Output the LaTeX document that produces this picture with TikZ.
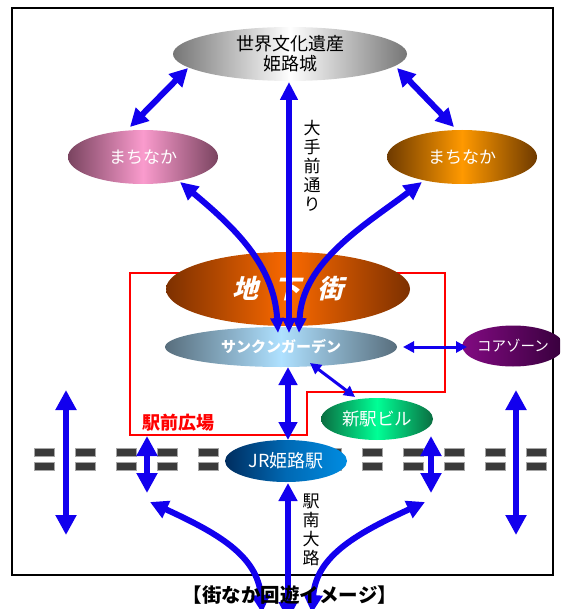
\documentclass[tikz,border=0pt]{standalone}
\usepackage{fontspec}
\setmainfont{Noto Sans CJK JP}
\newfontfamily\jpslant{Noto Sans CJK JP}[FakeSlant=0.25]
\usetikzlibrary{arrows.meta,shapes.geometric,calc}
\definecolor{ablue}{RGB}{18,0,238}
\definecolor{ggray}{RGB}{118,118,118}
\definecolor{pinkE}{RGB}{122,68,96}
\definecolor{pinkC}{RGB}{250,155,205}
\definecolor{orgE}{RGB}{110,58,0}
\definecolor{orgC}{RGB}{255,153,0}
\definecolor{chikaE}{RGB}{125,48,0}
\definecolor{chikaC}{RGB}{250,105,0}
\definecolor{sgE}{RGB}{88,110,125}
\definecolor{sgC}{RGB}{175,225,255}
\definecolor{czL}{RGB}{130,10,130}
\definecolor{czR}{RGB}{55,0,60}
\definecolor{sbE}{RGB}{10,110,65}
\definecolor{sbC}{RGB}{0,255,150}
\definecolor{jrL}{RGB}{0,45,95}
\definecolor{jrM}{RGB}{0,105,180}
\definecolor{jrR}{RGB}{0,140,225}
\definecolor{railc}{RGB}{58,58,58}
\tikzset{
  ell/.style={ellipse, inner sep=0pt, text=white},
  blu/.style={draw=ablue, line width=6pt},
  bigarr/.style={blu, {Triangle[length=18pt,width=18pt]}-{Triangle[length=18pt,width=18pt]}},
  fanarr/.style={blu, {Triangle[length=15pt,width=13pt]}-{Triangle[length=18pt,width=17pt]}},
  sidearr/.style={draw=ablue, line width=6.5pt, {Triangle[length=20pt,width=20pt]}-{Triangle[length=20pt,width=20pt]}},
  thinarr/.style={draw=ablue, line width=3pt, {Triangle[length=11pt,width=11pt]}-{Triangle[length=11pt,width=11pt]}},
  vlabel/.style={align=center, font=\fontsize{17}{19}\selectfont},
  raildash/.style={fill=railc, draw=black!35, line width=0.6pt}
}
\begin{document}
\begin{tikzpicture}[x=1pt,y=-1pt]
\useasboundingbox (0,0) rectangle (560,609);
\clip (0,0) rectangle (560,609);
% frame
\draw[line width=2.5pt] (12,8) rectangle (553,575);
% station square outline
\draw[red, line width=2pt] (130,273) -- (445,273) -- (445,392) -- (307,392) -- (307,435) -- (130,435) -- cycle;
% rails
\foreach \x in {34,75,...,526} {
  \path[raildash] (\x,448) rectangle ++(20,8);
  \path[raildash] (\x,462) rectangle ++(20,8);
}
% nodes
\node[ell, text=black, minimum width=234pt, minimum height=54pt, left color=ggray, right color=ggray, middle color=white, align=center, font=\fontsize{18}{20}\selectfont] (top) at (290,54) {世界文化遺産\\姫路城};
\node[ell, minimum width=150pt, minimum height=54pt, left color=pinkE, right color=pinkE, middle color=pinkC, font=\fontsize{17}{20}\selectfont] (lm) at (143,157) {まちなか};
\node[ell, minimum width=150pt, minimum height=54pt, left color=orgE, right color=orgE, middle color=orgC, font=\fontsize{17}{20}\selectfont] (rm) at (462,157) {まちなか};
\node[ell, minimum width=244pt, minimum height=74pt, left color=chikaE, right color=chikaE, middle color=chikaC, font=\jpslant\bfseries\fontsize{26}{28}\selectfont] (chika) at (288,289) {地\hspace{17pt}下\hspace{17pt}街};
\node[ell, minimum width=232pt, minimum height=40pt, left color=sgE, right color=sgE, middle color=sgC, font=\bfseries\fontsize{15}{18}\selectfont] (sg) at (281,347) {サンクンガーデン};
\node[ell, minimum width=88pt, minimum height=41pt, left color=czL, right color=czR, font=\fontsize{14.5}{17}\selectfont] (cz) at (513,346) {コアゾーン};
\node[ell, minimum width=112pt, minimum height=42pt, left color=sbE, right color=sbE, middle color=sbC, font=\fontsize{17.5}{20}\selectfont] (sb) at (377,419) {新駅ビル};
\node[ell, minimum width=122pt, minimum height=42pt, left color=jrL, right color=jrR, middle color=jrM, font=\fontsize{18}{20}\selectfont] (jr) at (286,461) {JR姫路駅};
% free ends
\coordinate (lv1) at (66,390);
\coordinate (lv2) at (66,535);
\coordinate (rv1) at (516,390);
\coordinate (rv2) at (516,535);
\coordinate (ls1) at (147,436);
\coordinate (ls2) at (147,493);
\coordinate (rs1) at (431,436);
\coordinate (rs2) at (431,493);
\coordinate (bl) at (262,613);
\coordinate (bc) at (288,620);
\coordinate (br) at (312,613);
\coordinate (blt) at (150,502);
\coordinate (brt) at (425,502);
% arrows
\draw[bigarr] ($(lm)+(-13,-30)$) -- ($(top)+(-102,14)$);
\draw[bigarr] ($(top)+(107,14)$) -- ($(rm)+(-8,-30)$);
\draw[fanarr] ($(sg)+(8,-14)$) -- ($(top)+(-1,28)$);
\draw[fanarr] ($(sg)+(-3,-14)$) .. controls (274,265) and (235,228) .. ($(lm)+(37,25)$);
\draw[fanarr] ($(sg)+(18,-14)$) .. controls (302,262) and (365,225) .. ($(rm)+(-40,25)$);
\draw[thinarr] ($(sg)+(122,0)$) -- ($(cz)+(-46,1)$);
\draw[thinarr] ($(sg)+(29,16)$) -- ($(sb)+(-22,-22)$);
\draw[bigarr] ($(sg)+(7,20)$) -- ($(jr)+(2,-21)$);
\draw[bigarr] ($(jr)+(2,22)$) -- (bc);
\draw[bigarr] (blt) .. controls (215,532) and (258,555) .. (bl);
\draw[bigarr] (brt) .. controls (360,532) and (316,555) .. (br);
\draw[sidearr] (lv1) -- (lv2);
\draw[sidearr] (rv1) -- (rv2);
\draw[sidearr] (ls1) -- (ls2);
\draw[sidearr] (rs1) -- (rs2);
% labels
\node[vlabel] (ote) at (312,166) {大\\手\\前\\通\\り};
\node[vlabel] (ekinan) at (311,530) {駅\\南\\大\\路};
\node[text=red, font=\bfseries\fontsize{18}{20}\selectfont] (hiroba) at (178,423) {駅前広場};
\node[font=\bfseries\fontsize{19.5}{22}\selectfont] (title) at (290,595) {【街なか回遊イメージ】};
\end{tikzpicture}
\end{document}
